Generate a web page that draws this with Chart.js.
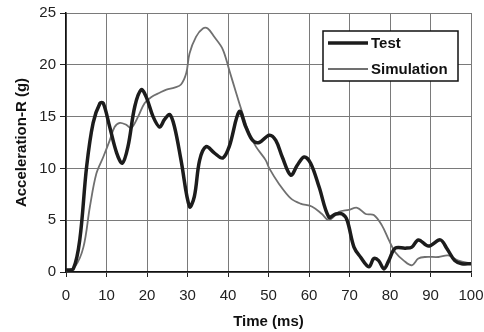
<!DOCTYPE html>
<html>
<head>
<meta charset="utf-8">
<script src="https://cdn.jsdelivr.net/npm/chart.js@4/dist/chart.umd.min.js"></script>
<style>
  html, body { margin: 0; padding: 0; background: #fff; }
  #wrap { width: 484px; height: 332px; }
</style>
</head>
<body>
<div id="wrap"><canvas id="chart" width="484" height="332"></canvas></div>
<script>
// Test curve (ms, g)
const testTime  = [0, 1.8, 3.4, 5.1, 6.7, 8.4, 9.2, 10.8, 12.5, 13.9, 15.3, 17.0, 18.6, 19.8, 21.5, 23.1, 24.3, 25.6, 26.8, 28.4, 30.5, 31.7, 33.0, 34.6, 36.6, 38.7, 40.3, 42.8, 44.4, 46.1, 47.7, 50.2, 51.8, 53.4, 55.5, 57.1, 58.8, 60.4, 62.5, 64.9, 66.6, 68.2, 69.4, 71.1, 72.7, 74.8, 76.0, 77.2, 78.5, 79.7, 81.3, 83.8, 85.4, 87.0, 89.5, 92.4, 94.0, 96.0, 97.7, 100];
const testAccel = [0.2, 0.3, 3.1, 10.2, 14.4, 16.3, 16.3, 14.0, 11.5, 10.5, 12.1, 16.0, 17.6, 16.9, 15.0, 14.0, 14.7, 15.2, 14.0, 10.8, 6.3, 7.3, 10.8, 12.1, 11.5, 11.0, 12.1, 15.5, 14.0, 12.7, 12.5, 13.2, 12.7, 11.1, 9.35, 10.3, 11.1, 10.5, 8.2, 5.3, 5.6, 5.6, 5.0, 2.4, 1.45, 0.5, 1.3, 1.1, 0.3, 1.1, 2.3, 2.3, 2.4, 3.1, 2.5, 3.1, 2.3, 1.1, 0.8, 0.8];

// Simulation curve (ms, g)
const simTime  = [0, 2.2, 4.3, 5.9, 7.5, 9.2, 10.8, 12.0, 13.3, 14.9, 16.1, 17.8, 19.4, 21.1, 23.1, 24.8, 26.8, 28.4, 29.7, 30.5, 32.1, 33.8, 35.0, 36.6, 38.7, 40.3, 42.0, 43.6, 45.2, 46.9, 49.3, 50.2, 52.6, 55.5, 57.9, 60.8, 63.2, 64.9, 67.4, 69.8, 71.9, 74.0, 76.0, 78.0, 79.7, 81.3, 83.4, 85.4, 87.0, 88.7, 92.0, 94.4, 96.9, 100];
const simAccel = [0.1, 0.5, 2.4, 6.3, 9.5, 11.1, 12.7, 14.0, 14.4, 14.2, 13.9, 15.0, 16.3, 16.9, 17.3, 17.6, 17.8, 18.1, 19.2, 21.1, 22.7, 23.5, 23.5, 22.7, 21.5, 19.5, 17.3, 15.3, 13.4, 12.1, 10.8, 10.0, 8.5, 7.1, 6.6, 6.3, 5.6, 5.0, 5.8, 6.0, 6.2, 5.6, 5.5, 4.5, 3.1, 1.9, 1.1, 0.65, 1.3, 1.45, 1.45, 1.6, 1.1, 0.8];

const xTicks = [0, 10, 20, 30, 40, 50, 60, 70, 80, 90, 100];
const yTicks = [0, 5, 10, 15, 20, 25];

function toPoints(xs, ys) {
    return xs.map((x, i) => ({ x: x, y: ys[i] }));
}

const FONT = 'Liberation Sans, Arial, sans-serif';

// legend box drawn inside the plot, top right
const boxLegend = {
    id: 'boxLegend',
    afterDraw(chart) {
        const ctx = chart.ctx;
        const x0 = 323, y0 = 31, w = 135, h = 50;
        ctx.save();
        ctx.fillStyle = '#fff';
        ctx.fillRect(x0, y0, w, h);
        ctx.strokeStyle = '#111';
        ctx.lineWidth = 1.5;
        ctx.strokeRect(x0, y0, w, h);
        ctx.font = 'bold 15px ' + FONT;
        ctx.textBaseline = 'middle';
        chart.data.datasets.forEach((ds, i) => {
            const y = y0 + 12 + i * 26;
            ctx.strokeStyle = ds.borderColor;
            ctx.lineWidth = ds.borderWidth;
            ctx.beginPath();
            ctx.moveTo(x0 + 5, y);
            ctx.lineTo(x0 + 45, y);
            ctx.stroke();
            ctx.fillStyle = '#111';
            ctx.fillText(ds.label, x0 + 48, y + 1);
        });
        ctx.restore();
    }
};

new Chart(document.getElementById('chart'), {
    type: 'line',
    data: {
        datasets: [
            {
                label: 'Test',
                data: toPoints(testTime, testAccel),
                borderColor: '#1c1c1c',
                borderWidth: 3.5,
                pointRadius: 0,
                tension: 0.35,
                fill: false
            },
            {
                label: 'Simulation',
                data: toPoints(simTime, simAccel),
                borderColor: '#707070',
                borderWidth: 1.8,
                pointRadius: 0,
                tension: 0.35,
                fill: false
            }
        ]
    },
    options: {
        responsive: false,
        animation: false,
        layout: { padding: { top: 13, right: 13, left: 0, bottom: 0 } },
        plugins: {
            legend: { display: false },
            tooltip: { enabled: false }
        },
        scales: {
            x: {
                type: 'linear',
                min: 0,
                max: 100,
                afterFit: s => { s.height = 60; s.paddingLeft = 0; s.paddingRight = 0; },
                afterBuildTicks: s => { s.ticks = xTicks.map(v => ({ value: v })); },
                grid: { color: '#7a7a7a', lineWidth: 1, tickLength: 5, drawTicks: true, tickColor: '#222' },
                border: { color: '#111', width: 1.5 },
                ticks: { color: '#222', font: { family: FONT, size: 15 }, padding: 10, maxRotation: 0 },
                title: { display: true, text: 'Time (ms)', color: '#111', font: { family: FONT, size: 15, weight: 'bold' }, padding: { top: 2, bottom: 1 } }
            },
            y: {
                type: 'linear',
                min: 0,
                max: 25,
                afterFit: s => { s.width = 66; s.paddingTop = 0; s.paddingBottom = 0; },
                afterBuildTicks: s => { s.ticks = yTicks.map(v => ({ value: v })); },
                grid: { color: '#7a7a7a', lineWidth: 1, tickLength: 6, drawTicks: true, tickColor: '#222' },
                border: { color: '#111', width: 1.5 },
                ticks: { color: '#222', font: { family: FONT, size: 15 }, padding: 4 },
                title: { display: true, text: 'Acceleration-R (g)', color: '#111', font: { family: FONT, size: 15, weight: 'bold' }, padding: { top: 13, bottom: 0 } }
            }
        }
    },
    plugins: [boxLegend]
});
</script>
</body>
</html>
